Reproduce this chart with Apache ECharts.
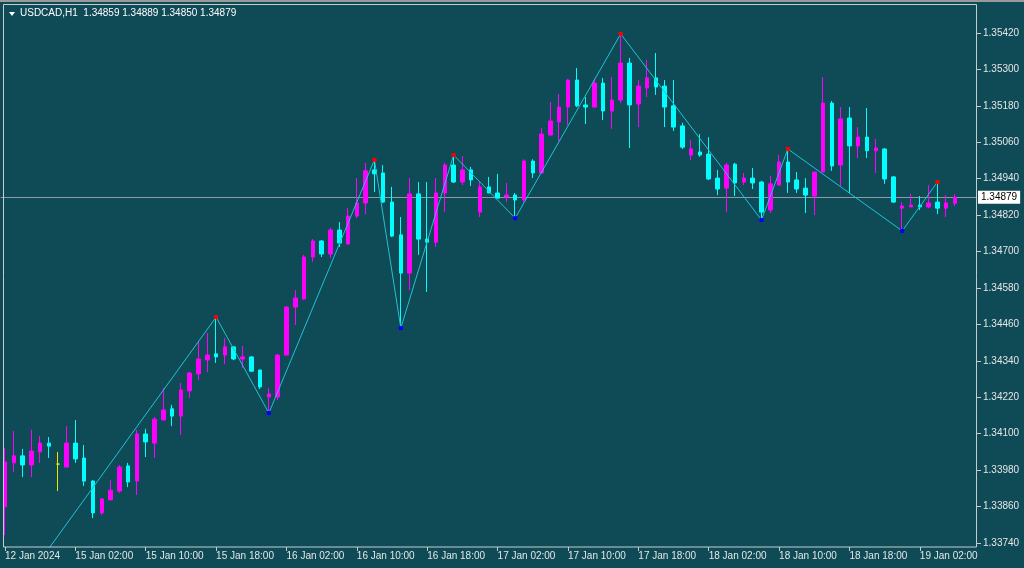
<html>
  <head>
    <meta http-equiv="Content-Type" content="text/html; charset=utf-8">
    <title>USDCAD,H1</title>
    <script src="https://cdn.jsdelivr.net/npm/echarts@6/dist/echarts.min.js"></script>
<style>
body{margin:0; height:100%; width:100%; overflow:hidden; background:#0f4a57;}
#main {position:absolute; top:0; left:0; width:1024px; height:568px;}
</style>
  </head>
<body>
  <div id="main"></div>
<script type="text/javascript">
  var symbol = 'USDCAD,H1';

  // H1 bars [open, close, low, high], from 12 Jan 18:00
  var candles = [
    [1.33859, 1.34007, 1.33766, 1.34053],
    [1.34004, 1.34027, 1.33974, 1.34109],
    [1.34027, 1.33997, 1.33957, 1.34050],
    [1.33997, 1.34043, 1.33957, 1.34113],
    [1.34040, 1.34069, 1.34004, 1.34093],
    [1.34069, 1.34059, 1.34020, 1.34089],
    // 15 Jan
    [1.34000, 1.34000, 1.33911, 1.34040],
    [1.33990, 1.34069, 1.33990, 1.34125],
    [1.34069, 1.34017, 1.34004, 1.34145],
    [1.34020, 1.33944, 1.33928, 1.34063],
    [1.33944, 1.33839, 1.33822, 1.33947],
    [1.33839, 1.33885, 1.33832, 1.33888],
    [1.33882, 1.33914, 1.33882, 1.33947],
    [1.33911, 1.33990, 1.33905, 1.33997],
    [1.33994, 1.33941, 1.33924, 1.34004],
    [1.33944, 1.34099, 1.33898, 1.34113],
    [1.34099, 1.34073, 1.34023, 1.34116],
    [1.34069, 1.34148, 1.34020, 1.34155],
    [1.34145, 1.34178, 1.34145, 1.34251],
    [1.34182, 1.34158, 1.34125, 1.34195],
    [1.34158, 1.34244, 1.34096, 1.34267],
    [1.34241, 1.34300, 1.34218, 1.34303],
    [1.34297, 1.34346, 1.34277, 1.34402],
    [1.34343, 1.34359, 1.34303, 1.34432],
    [1.34363, 1.34353, 1.34333, 1.34484],
    [1.34359, 1.34386, 1.34329, 1.34415],
    [1.34386, 1.34346, 1.34343, 1.34389],
    [1.34346, 1.34353, 1.34316, 1.34389],
    [1.34353, 1.34306, 1.34303, 1.34356],
    [1.34310, 1.34254, 1.34247, 1.34310],
    // 16 Jan
    [1.34221, 1.34231, 1.34168, 1.34251],
    [1.34221, 1.34359, 1.34211, 1.34363],
    [1.34359, 1.34517, 1.34359, 1.34521],
    [1.34517, 1.34547, 1.34458, 1.34573],
    [1.34544, 1.34682, 1.34541, 1.34689],
    [1.34682, 1.34735, 1.34666, 1.34741],
    [1.34735, 1.34692, 1.34682, 1.34738],
    [1.34692, 1.34771, 1.34679, 1.34778],
    [1.34771, 1.34728, 1.34715, 1.34797],
    [1.34725, 1.34817, 1.34722, 1.34843],
    [1.34817, 1.34860, 1.34810, 1.34942],
    [1.34860, 1.34966, 1.34823, 1.34992],
    [1.34969, 1.34956, 1.34896, 1.35002],
    [1.34959, 1.34863, 1.34860, 1.34985],
    [1.34863, 1.34751, 1.34748, 1.34913],
    [1.34755, 1.34629, 1.34448, 1.34814],
    [1.34629, 1.34890, 1.34573, 1.34942],
    [1.34890, 1.34741, 1.34689, 1.34929],
    [1.34741, 1.34731, 1.34567, 1.34929],
    [1.34731, 1.34893, 1.34715, 1.34942],
    [1.34893, 1.34985, 1.34830, 1.34992],
    [1.34985, 1.34929, 1.34926, 1.35018],
    [1.34929, 1.34969, 1.34919, 1.35015],
    [1.34969, 1.34936, 1.34916, 1.34979],
    // 17 Jan
    [1.34830, 1.34913, 1.34814, 1.34929],
    [1.34913, 1.34893, 1.34893, 1.34946],
    [1.34893, 1.34876, 1.34876, 1.34956],
    [1.34880, 1.34886, 1.34863, 1.34926],
    [1.34886, 1.34870, 1.34810, 1.34893],
    [1.34870, 1.34998, 1.34863, 1.35004],
    [1.34998, 1.34959, 1.34942, 1.35004],
    [1.34959, 1.35087, 1.34959, 1.35107],
    [1.35084, 1.35130, 1.35081, 1.35193],
    [1.35127, 1.35176, 1.35064, 1.35219],
    [1.35176, 1.35265, 1.35117, 1.35269],
    [1.35265, 1.35180, 1.35176, 1.35305],
    [1.35183, 1.35176, 1.35120, 1.35209],
    [1.35176, 1.35255, 1.35176, 1.35272],
    [1.35255, 1.35163, 1.35133, 1.35272],
    [1.35163, 1.35199, 1.35104, 1.35275],
    [1.35199, 1.35321, 1.35189, 1.35417],
    [1.35321, 1.35183, 1.35041, 1.35338],
    [1.35186, 1.35245, 1.35110, 1.35265],
    [1.35239, 1.35272, 1.35209, 1.35331],
    [1.35272, 1.35242, 1.35216, 1.35354],
    [1.35245, 1.35176, 1.35110, 1.35265],
    [1.35180, 1.35110, 1.35097, 1.35265],
    [1.35114, 1.35044, 1.35038, 1.35124],
    // 18 Jan
    [1.35018, 1.35038, 1.35002, 1.35067],
    [1.35028, 1.35018, 1.35012, 1.35087],
    [1.35021, 1.34939, 1.34936, 1.35077],
    [1.34942, 1.34906, 1.34886, 1.34969],
    [1.34909, 1.34985, 1.34830, 1.34992],
    [1.34988, 1.34926, 1.34883, 1.34992],
    [1.34929, 1.34942, 1.34919, 1.34959],
    [1.34942, 1.34926, 1.34906, 1.34975],
    [1.34929, 1.34830, 1.34804, 1.34933],
    [1.34837, 1.34923, 1.34827, 1.34949],
    [1.34919, 1.34995, 1.34919, 1.35018],
    [1.34995, 1.34929, 1.34893, 1.35038],
    [1.34936, 1.34906, 1.34893, 1.34962],
    [1.34909, 1.34886, 1.34827, 1.34942],
    [1.34883, 1.34962, 1.34820, 1.34962],
    [1.34962, 1.35189, 1.34962, 1.35275],
    [1.35189, 1.34982, 1.34966, 1.35196],
    [1.34985, 1.35137, 1.34916, 1.35176],
    [1.35140, 1.35048, 1.34893, 1.35176],
    [1.35048, 1.35077, 1.35008, 1.35110],
    [1.35077, 1.35032, 1.35008, 1.35173],
    [1.35032, 1.35041, 1.34959, 1.35071],
    [1.35038, 1.34939, 1.34923, 1.35041],
    [1.34946, 1.34863, 1.34860, 1.34949],
    // 19 Jan
    [1.34843, 1.34850, 1.34768, 1.34863],
    [1.34847, 1.34853, 1.34847, 1.34890],
    [1.34853, 1.34847, 1.34837, 1.34883],
    [1.34847, 1.34860, 1.34843, 1.34919],
    [1.34863, 1.34843, 1.34823, 1.34929],
    [1.34843, 1.34860, 1.34814, 1.34886],
    [1.34859, 1.34879, 1.34850, 1.34889]
  ];

  // zigzag pivots: bar index and price (first one lies below the visible range)
  var zzBar = [0, 24, 30, 42, 45, 51, 58, 70, 86, 89, 102, 106];
  var zzPrice = [1.33522, 1.34484, 1.34168, 1.35002, 1.34448, 1.35018, 1.34810, 1.35417, 1.34804, 1.35038, 1.34768, 1.34929];

  var tickLabels = ['12 Jan 2024', '15 Jan 02:00', '15 Jan 10:00', '15 Jan 18:00', '16 Jan 02:00', '16 Jan 10:00',
    '16 Jan 18:00', '17 Jan 02:00', '17 Jan 10:00', '17 Jan 18:00', '18 Jan 02:00', '18 Jan 10:00',
    '18 Jan 18:00', '19 Jan 02:00'];
  var priceTicks = [1.33740, 1.33860, 1.33980, 1.34100, 1.34220, 1.34340, 1.34460, 1.34580,
    1.34700, 1.34820, 1.34940, 1.35060, 1.35180, 1.35300, 1.35420];

  // bar times (weekend skipped), plus 2 empty slots for the chart shift
  function pad(n) { return n < 10 ? '0' + n : '' + n; }
  var times = [];
  for (var i = 0; i < candles.length + 2; i++) {
    if (i < 6) {
      times.push('12 Jan ' + pad(18 + i) + ':00');
    } else {
      var h = i - 6;
      times.push((15 + Math.floor(h / 24)) + ' Jan ' + pad(h % 24) + ':00');
    }
  }

  var last = candles[candles.length - 1];
  var header = symbol + '  ' + [last[0], last[3], last[2], last[1]].map(function(v) { return v.toFixed(5); }).join(' ');

  var doji = '#e8e800';
  var dojiStyle = {color: doji, color0: doji, borderColor: doji, borderColor0: doji, borderColorDoji: doji};
  var candleData = candles.map(function(c) {
    return c[0] === c[1] ? {value: c, itemStyle: dojiStyle} : c;
  });

  var zigzag = candles.map(function() { return null; });
  zzBar.forEach(function(b, k) {
    if (k === 0) {
      zigzag[b] = {value: zzPrice[k], symbol: 'none'};
    } else {
      var isHigh = zzPrice[k] > zzPrice[k - 1];
      zigzag[b] = {value: zzPrice[k], itemStyle: {color: isHigh ? '#ff0000' : '#0000ff'}};
    }
  });

  var font = 'Liberation Sans, Arial, sans-serif';
  var myChart = echarts.init(document.getElementById('main'));
  var option = {
    backgroundColor: '#0f4a57',
    animation: false,
    title: {
      text: header,
      left: 20,
      top: 8,
      padding: 0,
      textStyle: {color: '#ffffff', fontSize: 10, fontWeight: 'normal', fontFamily: font}
    },
    grid: {left: 0.6, right: 47, top: 4, bottom: 21},
    xAxis: {
      type: 'category',
      data: times,
      boundaryGap: true,
      axisLine: {show: false},
      axisTick: {
        show: true,
        alignWithLabel: true,
        length: 4,
        interval: function(idx) { return idx % 8 === 0 && idx <= 104; },
        lineStyle: {color: '#c5cdd0'}
      },
      axisLabel: {
        interval: function(idx) { return idx % 8 === 0 && idx <= 104; },
        formatter: function(v, idx) { return tickLabels[idx / 8]; },
        align: 'left',
        margin: 4,
        color: '#e6e6e6',
        fontSize: 10,
        fontFamily: font,
        hideOverlap: false
      },
      splitLine: {show: false}
    },
    yAxis: {
      type: 'value',
      position: 'right',
      scale: true,
      min: 1.337268,
      max: 1.355155,
      axisLine: {show: false},
      axisTick: {show: true, length: 4, customValues: priceTicks, lineStyle: {color: '#c5cdd0'}},
      axisLabel: {
        customValues: priceTicks,
        formatter: function(v) { return v.toFixed(5); },
        margin: 6,
        color: '#e6e6e6',
        fontSize: 10,
        fontFamily: font
      },
      splitLine: {show: false}
    },
    series: [{
      type: 'candlestick',
      data: candleData,
      barWidth: 4,
      itemStyle: {
        color: '#ff00ff',
        color0: '#00ffff',
        borderColor: '#ff00ff',
        borderColor0: '#00ffff',
        borderColorDoji: doji,
        borderWidth: 1
      }
    }, {
      type: 'line',
      data: zigzag,
      connectNulls: true,
      showAllSymbol: true,
      symbol: 'rect',
      symbolSize: 4,
      z: 3,
      lineStyle: {color: '#1ec4d4', width: 1},
      itemStyle: {color: '#1ec4d4'},
      markLine: {
        silent: true,
        symbol: 'none',
        precision: 5,
        z: 1,
        lineStyle: {color: '#8c9ca0', width: 1, type: 'solid'},
        label: {
          show: true,
          position: 'end',
          distance: 1,
          formatter: last[1].toFixed(5),
          backgroundColor: '#ffffff',
          color: '#000000',
          padding: [2, 3, 1, 3],
          fontSize: 10,
          fontFamily: font
        },
        data: [{yAxis: last[1]}]
      }
    }],
    graphic: [
      {type: 'rect', shape: {x: 0, y: 0, width: 1024, height: 2}, style: {fill: '#9a9a9a'}, silent: true},
      {type: 'rect', shape: {x: 3.5, y: 4.5, width: 973, height: 542.5}, style: {fill: null, stroke: '#c5cdd0', lineWidth: 1}, z: 100, silent: true},
      {type: 'polygon', shape: {points: [[9, 12], [15, 12], [12, 16]]}, style: {fill: '#ffffff'}, silent: true}
    ]
  };
  myChart.setOption(option);
</script>
</body>
</html>
